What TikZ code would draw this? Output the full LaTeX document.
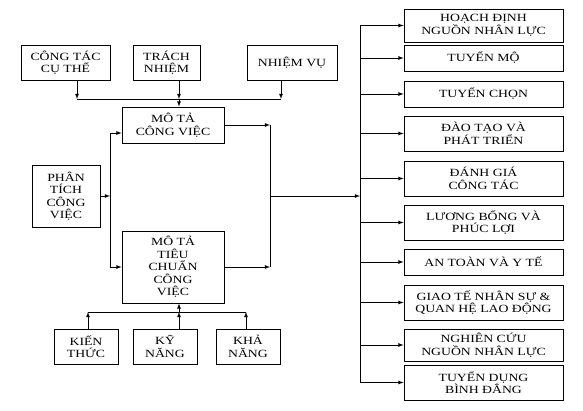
\documentclass[tikz,border=0pt]{standalone}
\usepackage{fontspec}
\setmainfont{Liberation Serif}[FakeStretch=1.25]
\usetikzlibrary{positioning}

\tikzset{
    >=latex,
    box/.style={draw, thick, align=center, inner sep=0pt, font=\fontsize{11}{12.5}\selectfont},
    task/.style={box, minimum width=159pt},
    line/.style={thick}
}

\begin{document}
\begin{tikzpicture}[x=1pt, y=-1pt]
    \useasboundingbox (0, 0) rectangle (583, 411);
    % inputs of the job description
    \node [box, minimum width=89pt, minimum height=35pt] (ct) at (65.5, 62.5) {CÔNG TÁC\\CỤ THỂ};
    \node [box, minimum width=67pt, minimum height=35pt] (tn) at (166.5, 62.5) {TRÁCH\\NHIỆM};
    \node [box, minimum width=90pt, minimum height=35pt] (nv) at (292, 62.5) {NHIỆM VỤ};
    \coordinate (topL) at (77, 99);
    \coordinate (topM) at (179, 99);
    \coordinate (topR) at (281, 99);
    \draw [line, ->] (ct.south -| topL) to (topL);
    \draw [line, ->] (tn.south -| topM) to (topM);
    \draw [line, ->] (nv.south -| topR) to (topR);
    \draw [line] (topL) to (topR);
    % job analysis
    \node [box, minimum width=102pt, minimum height=36pt] (mtcv) at (173, 125) {MÔ TẢ\\CÔNG VIỆC};
    \node [box, minimum width=68pt, minimum height=62pt] (ptcv) at (66, 196) {PHÂN\\TÍCH\\CÔNG\\VIỆC};
    \node [box, minimum width=102pt, minimum height=72pt] (mttc) at (173, 267) {MÔ TẢ\\TIÊU\\CHUẨN\\CÔNG\\VIỆC};
    \draw [line, ->] (topM) to (mtcv.north -| topM);
    \coordinate (lv1) at (110, 133);
    \coordinate (lv2) at (110, 267);
    \draw [line, ->] (ptcv.east) to (ptcv.east -| lv1);
    \draw [line] (lv1) to (lv2);
    \draw [line, ->] (lv1) to (mtcv.west |- lv1);
    \draw [line, ->] (lv2) to (mttc.west |- lv2);
    \coordinate (rv1) at (270, 125);
    \coordinate (rv2) at (270, 267);
    \coordinate (mid) at (270, 196);
    \draw [line, ->] (mtcv.east) to (rv1);
    \draw [line, ->] (mttc.east) to (rv2);
    \draw [line] (rv1) to (rv2);
    % inputs of the job specification
    \node [box, minimum width=64pt, minimum height=35pt] (kt) at (86, 346.5) {KIẾN\\THỨC};
    \node [box, minimum width=64pt, minimum height=35pt] (kn) at (165, 346.5) {KỸ\\NĂNG};
    \node [box, minimum width=64pt, minimum height=35pt] (khn) at (248, 346.5) {KHẢ\\NĂNG};
    \coordinate (botL) at (88, 312);
    \coordinate (botM) at (179, 312);
    \coordinate (botR) at (246, 312);
    \draw [line, ->] (kt.north -| botL) to (botL);
    \draw [line, ->] (kn.north -| botM) to (botM);
    \draw [line, ->] (khn.north -| botR) to (botR);
    \draw [line] (botL) to (botR);
    \draw [line, ->] (botM) to (mttc.south -| botM);
    % HR functions
    \node [task, minimum height=33pt] (hd) at (483.5, 25.5) {HOẠCH ĐỊNH\\NGUỒN NHÂN LỰC};
    \node [task, minimum height=26pt] (tm) at (483.5, 58) {TUYỂN MỘ};
    \node [task, minimum height=26pt] (tc) at (483.5, 94) {TUYỂN CHỌN};
    \node [task, minimum height=35pt] (dt) at (483.5, 133.5) {ĐÀO TẠO VÀ\\PHÁT TRIỂN};
    \node [task, minimum height=35pt] (dg) at (483.5, 178.5) {ĐÁNH GIÁ\\CÔNG TÁC};
    \node [task, minimum height=35pt] (lb) at (483.5, 222.5) {LƯƠNG BỔNG VÀ\\PHÚC LỢI};
    \node [task, minimum height=26pt] (at) at (483.5, 262) {AN TOÀN VÀ Y TẾ};
    \node [task, minimum height=35pt] (gt) at (483.5, 302.5) {GIAO TẾ NHÂN SỰ \&\\QUAN HỆ LAO ĐỘNG};
    \node [task, minimum height=32pt] (nc) at (483.5, 345) {NGHIÊN CỨU\\NGUỒN NHÂN LỰC};
    \node [task, minimum height=35pt] (td) at (483.5, 382.5) {TUYỂN DỤNG\\BÌNH ĐẲNG};
    \coordinate (bus) at (360, 196);
    \draw [line, ->] (mid) to (bus);
    \draw [line] (bus |- hd.west) to (bus |- td.west);
    \foreach \f in {hd, tm, tc, dt, dg, lb, at, gt, nc, td}
        \draw [line, ->] (bus |- \f.west) to (\f.west);
\end{tikzpicture}
\end{document}
